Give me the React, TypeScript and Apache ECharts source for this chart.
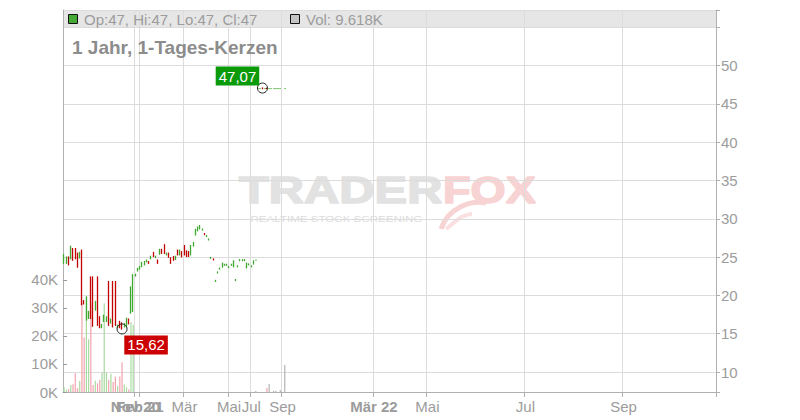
import React, { useEffect, useRef } from "react";
import * as echarts from "echarts";

// ---------- data ----------
const slotCount = 293;
const categories: string[] = Array.from({ length: slotCount }, (_, i) => `T${i}`);

const xTickSlots = [32, 34, 54, 74, 84, 98, 139, 163, 207, 251];
const xTickLabels = ["Nov 20", "Feb 21", "Mär", "Mai", "Jul", "Sep", "Mär 22", "Mai", "Jul", "Sep"];
const xTickBold = [true, true, false, false, false, false, true, false, false, false];

const priceTicks = [10, 15, 20, 25, 30, 35, 40, 45, 50];
const volumeTicks = [0, 10, 20, 30, 40];

const opens = [
  24.2, 24.2, 25.0, 24.8, 26.1, 26.1, 25.5, 24.9, 25.9, 19.3,
  16.8, 17.0, 22.4, 22.4, 18.1, 22.4, 17.2, 15.8, 16.6, 16.6,
  21.8, 16.4, 21.8, 21.8, 15.8, 16.6, 16.4, 15.9, 15.9, 16.9,
  17.7, 17.9, 22.55, 23.2, 23.45, 23.75, 24.0, 24.4, 24.4, 24.8,
  25.6, 24.95, 24.6, 25.4, 26.0, 26.6, 25.3, 25.5, 24.9, 25.05,
  24.7, 25.9, 25.3, 25.7, 26.5, 25.8, 25.7, 25.3, 26.45, 27.9,
  28.45, 28.7, 28.55, 28.05, 27.7, 27.25, 24.85, 24.75, 21.85, 22.95,
  23.45, 23.7, 23.95, 23.95, 23.65, 23.95, 23.75, 21.95, 23.75, 24.55,
  24.55, 24.55, 23.6, 24.0, 23.75, 24.1, 24.6, 47, 47, 47,
  47, 47.02, 47, 47, 47, 47, 47, 47, 47, 47,
];
const closes = [
  25.3, 25.0, 24.0, 26.4, 24.6, 24.8, 23.7, 25.6, 18.8, 18.9,
  19.8, 17.9, 17.0, 16.0, 19.2, 16.1, 15.8, 16.2, 17.4, 17.2,
  16.1, 16.9, 15.9, 16.1, 16.1, 15.8, 15.7, 16.3, 17.0, 16.3,
  21.1, 22.7, 22.75, 23.5, 23.75, 24.3, 24.4, 24.6, 24.2, 25.1,
  25.1, 25.1, 24.2, 26.0, 25.5, 25.5, 25.5, 25.0, 24.2, 24.6,
  25.1, 25.3, 25.9, 25.05, 25.3, 25.1, 25.1, 26.5, 26.9, 28.6,
  28.9, 29.1, 28.65, 27.95, 27.8, 27.35, 24.95, 24.65, 21.95, 23.05,
  23.55, 24.2, 24.05, 24.05, 23.75, 24.05, 24.5, 22.05, 23.85, 24.65,
  24.65, 24.65, 24.2, 24.1, 23.85, 24.5, 24.6, 47, 47, 47,
  47, 47, 47, 47, 47, 47, 47, 47, 47, 47,
];
const lows = [
  24.2, 24.2, 24.0, 24.8, 24.6, 24.8, 23.7, 24.9, 18.8, 18.9,
  16.8, 17.0, 17.0, 16.0, 18.1, 16.1, 15.8, 15.8, 16.6, 16.6,
  16.1, 16.4, 15.9, 16.1, 15.8, 15.8, 15.62, 15.9, 15.9, 16.3,
  17.7, 17.9, 22.55, 23.2, 23.45, 23.75, 24.0, 24.4, 24.2, 24.8,
  25.1, 24.95, 24.2, 25.4, 25.5, 25.5, 25.3, 25.0, 24.2, 24.6,
  24.7, 25.3, 25.3, 25.05, 25.3, 25.1, 25.1, 25.3, 26.45, 27.9,
  28.45, 28.7, 28.55, 27.95, 27.7, 27.25, 24.85, 24.65, 21.85, 22.95,
  23.45, 23.7, 23.95, 23.95, 23.65, 23.95, 23.75, 21.95, 23.75, 24.55,
  24.55, 24.55, 23.6, 24.0, 23.75, 24.1, 24.6, 47, 47, 47,
  47, 47, 47, 47, 47, 47, 47, 47, 47, 47,
];
const highs = [
  25.3, 25.0, 25.0, 26.4, 26.1, 26.1, 25.5, 25.6, 25.9, 19.3,
  19.8, 17.9, 22.4, 22.4, 19.2, 22.4, 17.2, 16.2, 17.4, 17.2,
  21.8, 16.9, 21.8, 21.8, 16.1, 16.6, 16.4, 16.3, 17.0, 16.9,
  21.1, 22.7, 22.75, 23.5, 23.75, 24.3, 24.4, 24.6, 24.4, 25.1,
  25.6, 25.1, 24.6, 26.0, 26.0, 26.6, 25.5, 25.5, 24.9, 25.05,
  25.1, 25.9, 25.9, 25.7, 26.5, 25.8, 25.7, 26.5, 26.9, 28.6,
  28.9, 29.1, 28.65, 28.05, 27.8, 27.35, 24.95, 24.75, 21.95, 23.05,
  23.55, 24.2, 24.05, 24.05, 23.75, 24.05, 24.5, 22.05, 23.85, 24.65,
  24.65, 24.65, 24.2, 24.1, 23.85, 24.5, 24.6, 47, 47, 47.07,
  47, 47.02, 47, 47, 47, 47, 47, 47, 47, 47,
];
// volume in thousands
const volumes = [
  1.7, 0.9, 1.0, 2.5, 2.8, 6.7, 1.4, 3.9, 31.7, 19.5,
  34.0, 18.8, 31.7, 2.5, 4.0, 3.1, 4.3, 6.9, 31.7, 6.9,
  4.3, 6.5, 3.6, 5.5, 2.1, 5.5, 10.6, 2.7, 1.7, 0.9,
  25, 24, 0, 0, 0, 0, 0, 0, 0, 0,
  0, 0, 0, 0, 0, 0, 0, 0, 0, 0,
  0, 0, 0, 0, 0, 0, 0, 0, 0, 0,
  0, 0, 0, 0, 0, 0, 0, 0, 0, 0,
  0, 0, 0, 0, 0, 0, 0, 0, 0, 0,
  0, 0, 0, 0, 0, 0, 0.4, 0, 0, 0,
  0, 1.4, 2.9, 0, 0.4, 0.4, 0, 0.7, 0, 9.618,
];

const title = "1 Jahr, 1-Tages-Kerzen";

// ---------- styles ----------
const FONT = "'Liberation Sans', Arial, Helvetica, sans-serif";
const UP = "#3fa82e";
const DOWN = "#c20000";
const VOL_UP = "#a9daa0";
const VOL_DOWN = "#f2a3ad";
const VOL_FLAT = "#b4b4b4";
const GRID = "#dcdcdc";
const AXIS = "#b0b0b0";
const LABEL = "#9c9c9c";

export default function App() {
  const ref = useRef<HTMLDivElement>(null);

  useEffect(() => {
    if (!ref.current) return;
    const chart = echarts.init(ref.current, null, { renderer: "svg" });

    const EMPTY = ["-", "-", "-", "-"];
    const isFlat = (i: number) =>
      opens[i] === closes[i] && lows[i] === highs[i] && opens[i] === lows[i];
    const candleData = opens.map((o, i) => (isFlat(i) ? EMPTY : [o, closes[i], lows[i], highs[i]]));
    const flatData = opens.map((o, i) => (isFlat(i) ? [o, closes[i], lows[i], highs[i]] : EMPTY));
    const volumeData = volumes.map((v, i) => ({
      value: v,
      itemStyle: {
        color: closes[i] > opens[i] ? VOL_UP : closes[i] < opens[i] ? VOL_DOWN : VOL_FLAT,
      },
    }));

    let maxIdx = 0;
    let minIdx = 0;
    highs.forEach((h, i) => { if (h > highs[maxIdx]) maxIdx = i; });
    lows.forEach((l, i) => { if (l < lows[minIdx]) minIdx = i; });
    const fmt = (v: number) => v.toFixed(2).replace(".", ",");

    const last = opens.length - 1;
    const header = `Op:${opens[last]}, Hi:${highs[last]}, Lo:${lows[last]}, Cl:${closes[last]}`;
    const volHeader = `Vol: ${volumes[last]}K`;

    // first label is drawn by a second (overlaid) axis so that both overlapping labels show
    const mainSlots = xTickSlots.slice(1);
    const isTick = (i: number) => xTickSlots.indexOf(i) >= 0;
    const isMainLabel = (i: number) => mainSlots.indexOf(i) >= 0;
    const isFirstLabel = (i: number) => i === xTickSlots[0];
    const labelFor = (i: number) => {
      const k = xTickSlots.indexOf(i);
      if (k < 0) return "";
      return xTickBold[k] ? `{b|${xTickLabels[k]}}` : xTickLabels[k];
    };
    const rich = { b: { fontWeight: "bold", fontSize: 15, color: LABEL, fontFamily: FONT } };

    const option: any = {
      animation: false,
      textStyle: { fontFamily: FONT },
      grid: { left: 63, right: 84, top: 10, bottom: 28 },
      xAxis: [
        {
          type: "category",
          data: categories,
          boundaryGap: true,
          position: "bottom",
          axisLine: { show: true, lineStyle: { color: AXIS } },
          axisTick: { show: true, interval: isTick, length: 5, lineStyle: { color: AXIS } },
          axisLabel: {
            interval: isMainLabel,
            hideOverlap: false,
            margin: 7,
            color: LABEL,
            fontSize: 15,
            fontFamily: FONT,
            formatter: (_v: string, i: number) => labelFor(i),
            rich,
          },
          splitLine: { show: true, interval: isTick, lineStyle: { color: GRID, width: 1 } },
        },
        {
          type: "category",
          data: categories,
          boundaryGap: true,
          position: "top",
          offset: -382,
          axisLine: { show: false },
          axisTick: { show: false },
          splitLine: { show: false },
          axisLabel: {
            inside: true,
            interval: isFirstLabel,
            margin: 7,
            color: LABEL,
            fontSize: 15,
            fontFamily: FONT,
            formatter: (_v: string, i: number) => labelFor(i),
            rich,
          },
        },
      ],
      yAxis: [
        {
          type: "value",
          position: "right",
          min: 7.39,
          max: 57.26,
          splitNumber: 10,
          axisLine: { show: true, lineStyle: { color: AXIS } },
          axisTick: { show: true, length: 4, lineStyle: { color: AXIS } },
          axisLabel: {
            color: LABEL,
            fontSize: 15,
            margin: 5,
            fontFamily: FONT,
            formatter: (v: number) => (priceTicks.indexOf(v) >= 0 ? String(v) : ""),
          },
          splitLine: { show: true, lineStyle: { color: GRID, width: 1 } },
        },
        {
          type: "value",
          position: "left",
          min: 0,
          max: 136.4,
          axisLine: { show: true, lineStyle: { color: AXIS } },
          axisTick: {
            show: true,
            inside: true,
            length: 4,
            customValues: volumeTicks,
            lineStyle: { color: "#999" },
          },
          axisLabel: {
            customValues: volumeTicks,
            color: LABEL,
            fontSize: 15,
            margin: 5,
            fontFamily: FONT,
            formatter: (v: number) => `${v}K`,
          },
          splitLine: { show: false },
        },
      ],
      series: [
        {
          type: "bar",
          xAxisIndex: 0,
          yAxisIndex: 1,
          data: volumeData,
          barWidth: 1.2,
          silent: true,
        },
        {
          // flat candles (open = high = low = close) drawn as short dashes
          type: "candlestick",
          xAxisIndex: 0,
          yAxisIndex: 0,
          data: flatData,
          barWidth: 1.35,
          silent: true,
          itemStyle: {
            color: UP,
            color0: UP,
            borderColor: UP,
            borderColor0: UP,
            borderWidth: 0.8,
          },
        },
        {
          type: "candlestick",
          xAxisIndex: 0,
          yAxisIndex: 0,
          data: candleData,
          barWidth: 1,
          silent: true,
          itemStyle: {
            color: UP,
            color0: DOWN,
            borderColor: UP,
            borderColor0: DOWN,
            borderWidth: 1.3,
            borderCap: "square",
          },
          markPoint: {
            silent: true,
            symbol: "circle",
            symbolSize: 10,
            itemStyle: { color: "rgba(0,0,0,0)", borderColor: "#222", borderWidth: 1, borderCap: "butt" },
            label: {
              show: true,
              color: "#fff",
              fontSize: 15,
              fontFamily: FONT,
              padding: [1, 3, 0, 3],
              lineHeight: 18,
            },
            data: [
              {
                coord: [categories[maxIdx], highs[maxIdx]],
                label: {
                  formatter: fmt(highs[maxIdx]),
                  backgroundColor: "#0a9a0a",
                  offset: [-25, -12],
                },
              },
              {
                coord: [categories[minIdx], lows[minIdx]],
                label: {
                  formatter: fmt(lows[minIdx]),
                  backgroundColor: "#cc0000",
                  offset: [24, 16],
                },
              },
            ],
          },
        },
      ],
      graphic: [
        // header band
        { type: "rect", z: -20, shape: { x: 63, y: 10, width: 653, height: 18 }, style: { fill: "#e6e6e6" } },
        { type: "rect", z: 20, shape: { x: 68.5, y: 14.5, width: 9, height: 9 }, style: { fill: "#44aa33", stroke: "#111", lineWidth: 1 } },
        { type: "text", z: 20, x: 84, y: 19.5, style: { text: header, fill: LABEL, fontSize: 15, fontFamily: FONT, verticalAlign: "middle" } },
        { type: "rect", z: 20, shape: { x: 290.5, y: 14.5, width: 9, height: 9 }, style: { fill: "#c4c4c4", stroke: "#111", lineWidth: 1 } },
        { type: "text", z: 20, x: 306, y: 19.5, style: { text: volHeader, fill: LABEL, fontSize: 15, fontFamily: FONT, verticalAlign: "middle" } },
        // title
        { type: "text", z: 20, x: 72, y: 47.5, style: { text: title, fill: "#8c8c8c", fontSize: 19, fontWeight: "bold", fontFamily: FONT, verticalAlign: "middle" } },
        // watermark
        { type: "text", z: -10, x: 239, y: 190.5, scaleX: 1.32, style: { text: "TRADER", fill: "#e2e2e2", fontSize: 37, fontWeight: "bold", fontFamily: FONT, verticalAlign: "middle", stroke: "#e2e2e2", lineWidth: 1.5 } },
        { type: "text", z: -10, x: 443, y: 190.5, scaleX: 1.22, style: { text: "FOX", fill: "#f8d3d3", fontSize: 37, fontWeight: "bold", fontFamily: FONT, verticalAlign: "middle", stroke: "#f8d3d3", lineWidth: 1.5 } },
        { type: "bezierCurve", z: -10, shape: { x1: 441, y1: 229, x2: 486, y2: 203, cpx1: 448, cpy1: 208, cpx2: 470, cpy2: 200 }, style: { stroke: "#f8d3d3", lineWidth: 5, fill: null } },
        { type: "bezierCurve", z: -10, shape: { x1: 446, y1: 229, x2: 472, y2: 214, cpx1: 455, cpy1: 222, cpx2: 462, cpy2: 214 }, style: { stroke: "#fae0e0", lineWidth: 4, fill: null } },
        { type: "text", z: -10, x: 250.5, y: 218.5, scaleX: 1.22, style: { text: "REALTIME STOCK SCREENING", fill: "#dcdcdc", fontSize: 9.5, fontFamily: FONT, verticalAlign: "middle" } },
      ],
    };

    chart.setOption(option);
    return () => chart.dispose();
  }, []);

  return (
    <div
      ref={ref}
      style={{ position: "fixed", left: 0, top: 0, width: 800, height: 420, background: "#fff" }}
    />
  );
}
